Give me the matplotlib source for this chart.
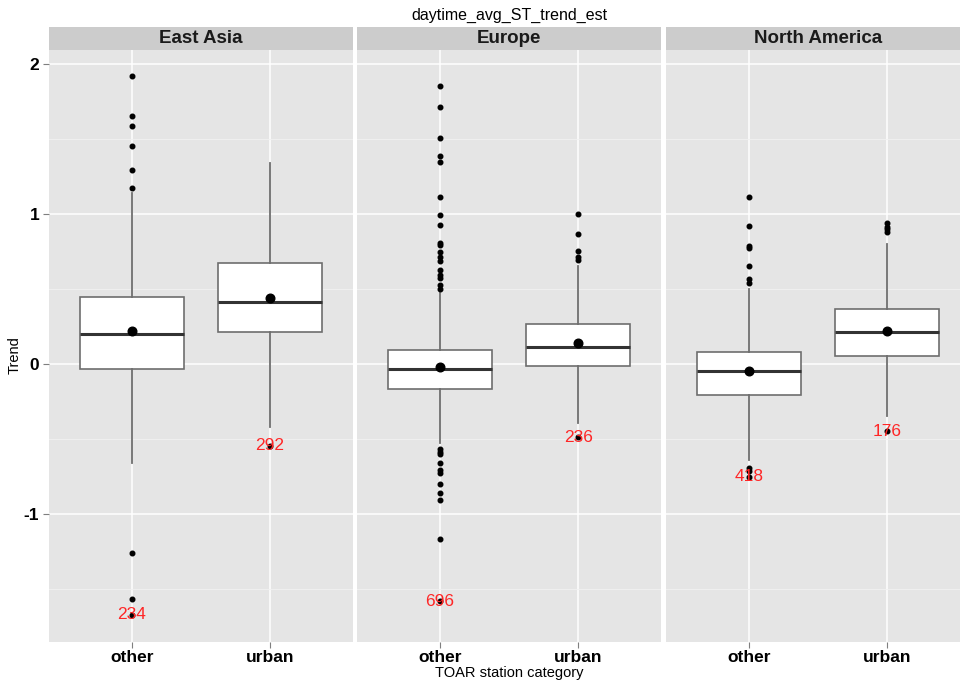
import matplotlib
matplotlib.use("Agg")
import matplotlib.pyplot as plt
from matplotlib.ticker import MultipleLocator

plt.rcParams["font.family"] = ["Liberation Sans Narrow", "Liberation Sans", "DejaVu Sans"]

REGIONS = ["East Asia", "Europe", "North America"]
CATEGORIES = ["other", "urban"]

# per region: [other, urban]
Q1 = [[-0.031, 0.211], [-0.169, -0.011], [-0.207, 0.053]]
MEDIAN = [[0.198, 0.416], [-0.033, 0.113], [-0.047, 0.213]]
Q3 = [[0.449, 0.676], [0.091, 0.264], [0.082, 0.367]]
MEAN = [[0.218, 0.438], [-0.022, 0.138], [-0.044, 0.220]]
WHISKER_LOW = [[-0.66, -0.418], [-0.527, -0.396], [-0.64, -0.347]]
WHISKER_HIGH = [[1.142, 1.34], [0.473, 0.653], [0.498, 0.80]]
COUNTS = [[234, 292], [696, 236], [418, 176]]

OUTLIERS = [
    [
        [1.918, 1.655, 1.585, 1.455, 1.291, 1.171, -1.26, -1.565, -1.673],
        [-0.545],
    ],
    [
        [1.856, 1.713, 1.509, 1.389, 1.349, 1.111, 0.993, 0.929, 0.804, 0.791,
         0.749, 0.716, 0.687, 0.627, 0.593, 0.571, 0.527, 0.498,
         -0.565, -0.587, -0.60, -0.66, -0.707, -0.724, -0.80, -0.858, -0.907,
         -1.167, -1.58],
        [1.0, 0.867, 0.756, 0.716, 0.693, -0.487],
    ],
    [
        [1.116, 0.922, 0.787, 0.771, 0.656, 0.564, 0.542, -0.696, -0.713, -0.752],
        [0.942, 0.916, 0.90, 0.882, -0.447],
    ],
]

PANEL_BG = "#E5E5E5"
STRIP_BG = "#CCCCCC"

fig = plt.figure(figsize=(9.6, 6.82), dpi=100)

W, H = 960, 682
panel_left = [49, 357, 666]
panel_w = 304
panel_top, panel_bottom = 50, 642
strip_top = 27

for i, region in enumerate(REGIONS):
    ax = fig.add_axes([
        panel_left[i] / W,
        (H - panel_bottom) / H,
        panel_w / W,
        (panel_bottom - panel_top) / H,
    ])
    ax.set_facecolor(PANEL_BG)

    stats = []
    for j, cat in enumerate(CATEGORIES):
        stats.append(dict(
            label=cat,
            q1=Q1[i][j], med=MEDIAN[i][j], q3=Q3[i][j], mean=MEAN[i][j],
            whislo=WHISKER_LOW[i][j], whishi=WHISKER_HIGH[i][j],
            fliers=OUTLIERS[i][j],
        ))

    ax.bxp(
        stats,
        positions=[1, 2],
        widths=0.75,
        patch_artist=True,
        showmeans=True,
        showcaps=False,
        boxprops=dict(facecolor="white", edgecolor="#6E6E6E", linewidth=1.2),
        medianprops=dict(color="#333333", linewidth=2.2),
        whiskerprops=dict(color="#6E6E6E", linewidth=1.3),
        flierprops=dict(marker="o", markersize=3.3, markerfacecolor="black",
                        markeredgecolor="black"),
        meanprops=dict(marker="o", markersize=6.2, markerfacecolor="black",
                       markeredgecolor="black"),
        zorder=3,
    )

    # sample size written at the lowest value of each group
    for j in range(len(CATEGORIES)):
        low = min([WHISKER_LOW[i][j]] + OUTLIERS[i][j])
        ax.text(j + 1, low, str(COUNTS[i][j]), color="#FF2626", fontsize=12.5,
                ha="center", va="center", zorder=5,
                family=["Liberation Sans", "DejaVu Sans"])

    ax.set_xlim(0.4, 2.6)
    ax.set_ylim(-1.853, 2.093)
    ax.yaxis.set_major_locator(MultipleLocator(1))
    ax.yaxis.set_minor_locator(MultipleLocator(0.5))
    ax.set_xticks([1, 2])
    ax.set_xticklabels(CATEGORIES, fontsize=12.5, fontweight="bold")
    ax.grid(which="major", color="white", linewidth=1.1, zorder=0)
    ax.grid(which="minor", axis="y", color="#F2F2F2", linewidth=0.6, zorder=0)
    ax.set_axisbelow(True)
    for s in ax.spines.values():
        s.set_visible(False)
    ax.tick_params(axis="both", which="major", length=4, color="#7F7F7F", width=0.8)
    ax.tick_params(axis="y", which="minor", length=0)
    ax.tick_params(axis="x", pad=2)
    if i == 0:
        ax.set_yticks([-1, 0, 1, 2])
        ax.set_yticklabels(["-1", "0", "1", "2"], fontsize=12.5, fontweight="bold")
        ax.tick_params(axis="y", pad=3)
    else:
        ax.tick_params(axis="y", which="both", length=0, labelleft=False)

    # facet strip
    sax = fig.add_axes([
        panel_left[i] / W,
        (H - panel_top) / H,
        panel_w / W,
        (panel_top - strip_top) / H,
    ])
    sax.set_facecolor(STRIP_BG)
    sax.set_xticks([])
    sax.set_yticks([])
    for s in sax.spines.values():
        s.set_visible(False)
    sax.text(0.5, 0.5, region, transform=sax.transAxes, ha="center", va="center",
             fontsize=13.5, fontweight="bold", color="#1A1A1A")

center_x = (panel_left[0] + panel_left[2] + panel_w) / 2 / W
fig.text(center_x, 1 - 15 / H, "daytime_avg_ST_trend_est", ha="center", va="center",
         fontsize=11.5)
fig.text(center_x, 1 - 673 / H, "TOAR station category", ha="center", va="center",
         fontsize=10.5)
fig.text(15 / W, 1 - 355 / H, "Trend", rotation=90, ha="center", va="center",
         fontsize=10.5)

fig.savefig("out.png", dpi=100, facecolor="white")
